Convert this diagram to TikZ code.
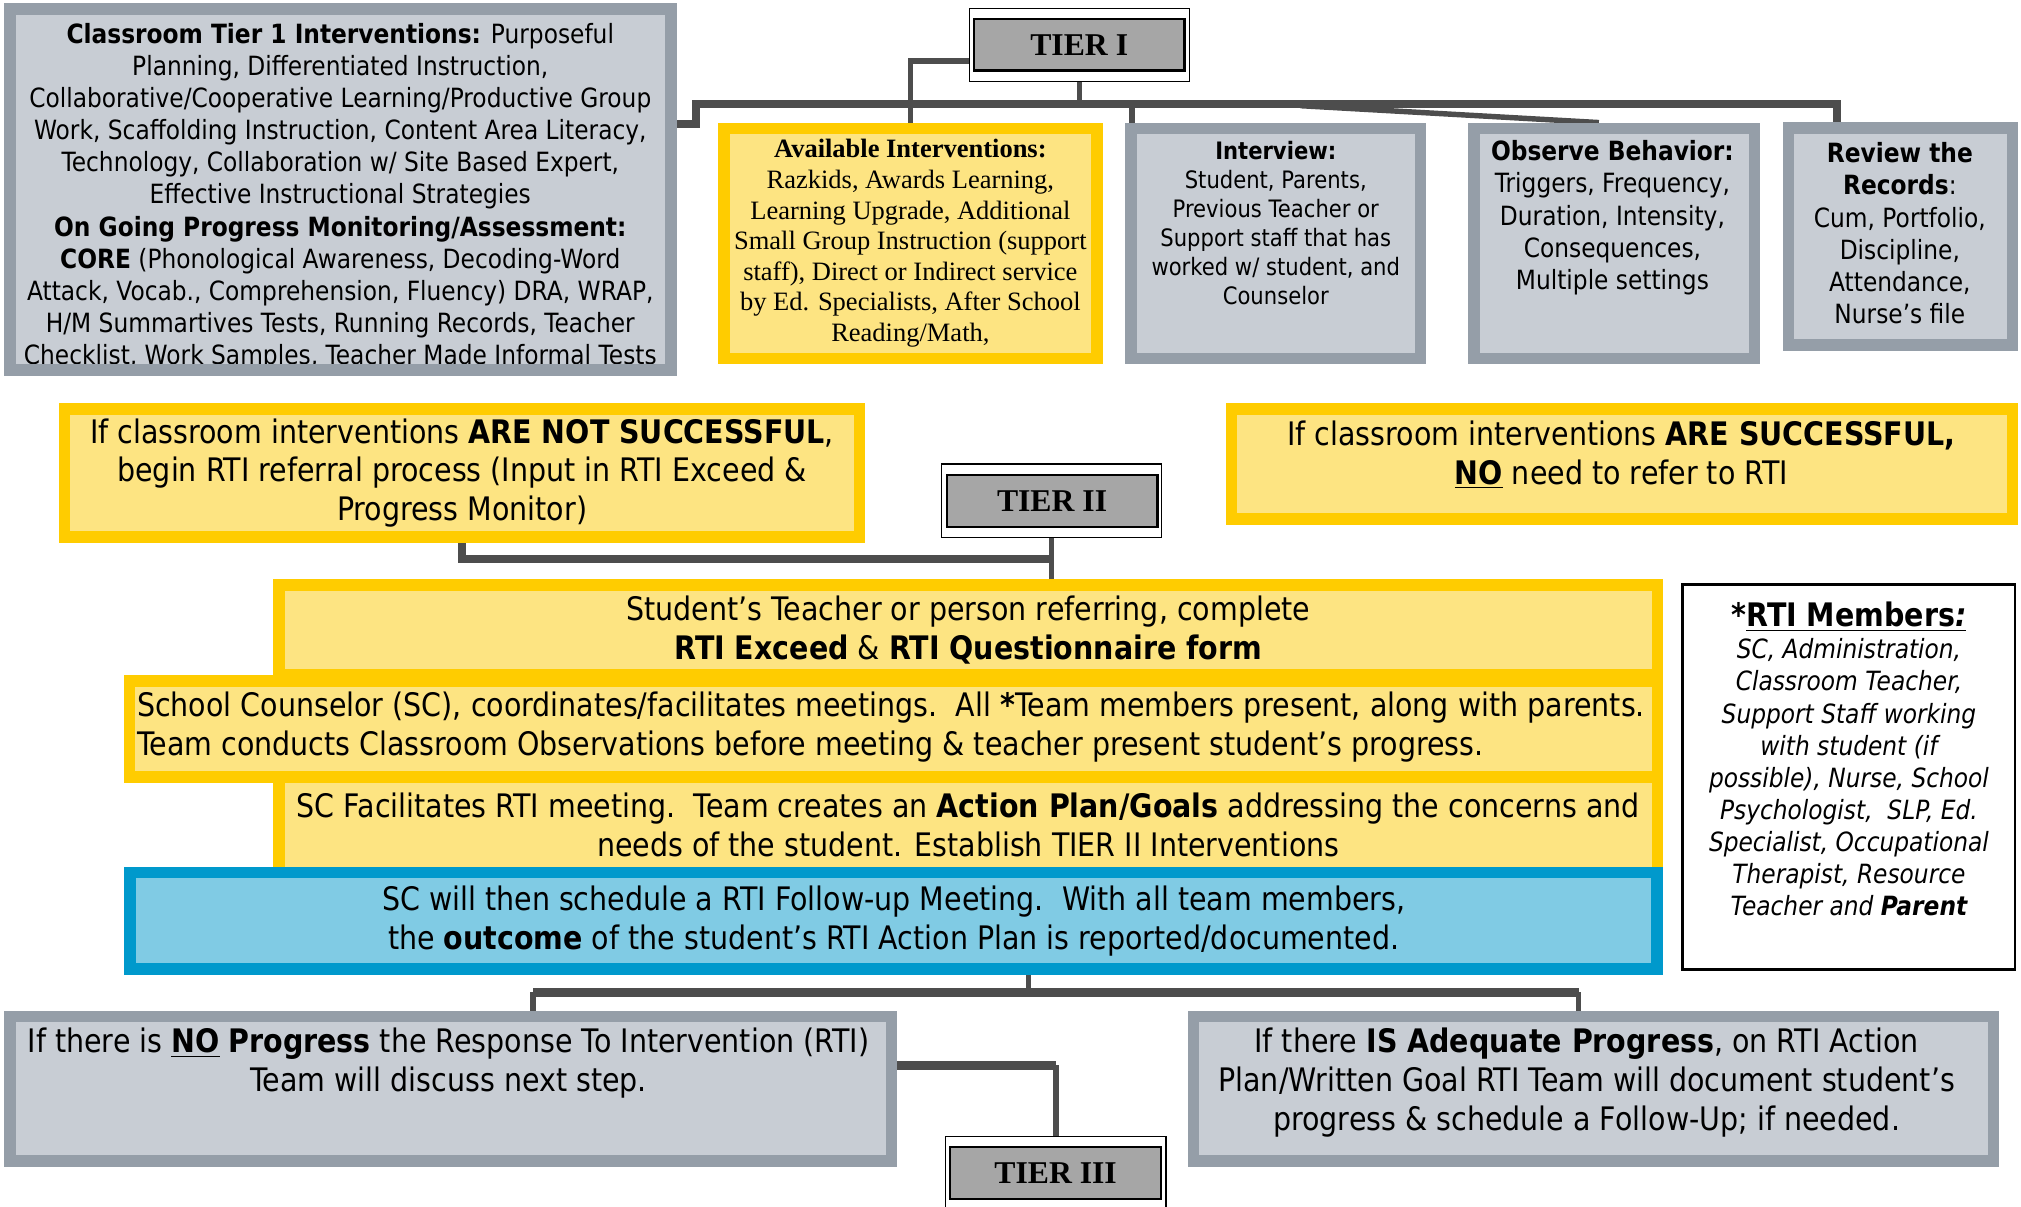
\documentclass[tikz,border=0pt]{standalone}
\usepackage{fontspec}
\setmainfont{DejaVu Sans}[FakeStretch=0.88]
\newfontfamily\serifface{Liberation Serif}
\usetikzlibrary{calc,backgrounds}

\definecolor{slateline}{HTML}{959EA8}
\definecolor{slatefill}{HTML}{C8CDD4}
\definecolor{goldline}{HTML}{FFCC00}
\definecolor{goldfill}{HTML}{FDE482}
\definecolor{skyline}{HTML}{0099CC}
\definecolor{skyfill}{HTML}{80CBE4}
\definecolor{tierfill}{HTML}{A6A6A6}
\definecolor{wire}{HTML}{4D4D4D}

\newcommand{\bodysize}{\fontsize{11.7pt}{14.2pt}\selectfont}
\newcommand{\smallbody}{\fontsize{10.6pt}{12.75pt}\selectfont}
\newcommand{\bigbody}{\fontsize{14.3pt}{17.1pt}\selectfont}
\newcommand{\availsize}{\serifface\fontsize{11.7pt}{13.5pt}\selectfont}
\newcommand{\tiersize}{\serifface\bfseries\fontsize{14pt}{16pt}\selectfont}

\begin{document}
\begin{tikzpicture}[x=0.02cm, y=-0.02cm,
  graybox/.style={draw=slateline, fill=slatefill, line width=5.1pt, inner sep=0pt},
  yellowbox/.style={draw=goldline, fill=goldfill, line width=5.1pt, inner sep=0pt},
  bluebox/.style={draw=skyline, fill=skyfill, line width=5.1pt, inner sep=0pt},
  tierframe/.style={draw=black, fill=white, line width=0.6pt, minimum width=3.42cm},
  tierbox/.style={draw=black, fill=tierfill, line width=1pt, minimum width=3.27cm, minimum height=0.8cm, font=\tiersize},
  words/.style={align=center, inner sep=0pt},
  bus/.style={draw=wire, line width=3.6pt},
  link/.style={draw=wire, line width=2.4pt}]

\useasboundingbox (0,0) rectangle (1568,936);

\node[graybox, minimum width=10.26cm, minimum height=5.6cm] (classbox) at (264,147) {};
\begin{scope}
\clip (12,11.6) rectangle (517,282);
\node[words, font=\bodysize] (classtext) at (264,152.5) {\textbf{Classroom Tier 1 Interventions:} Purposeful\\
Planning, Differentiated Instruction,\\
Collaborative/Cooperative Learning/Productive Group\\
Work, Scaffolding Instruction, Content Area Literacy,\\
Technology, Collaboration w/ Site Based Expert,\\
Effective Instructional Strategies\\
\textbf{On Going Progress Monitoring/Assessment:}\\
\textbf{CORE} (Phonological Awareness, Decoding-Word\\
Attack, Vocab., Comprehension, Fluency) DRA, WRAP,\\
H/M Summartives Tests, Running Records, Teacher\\
Checklist, Work Samples, Teacher Made Informal Tests};
\end{scope}

\node[tierframe, minimum height=1.13cm] (tieroneframe) at (837.5,34.75) {};
\node[tierbox] (tierone) at (837.3,34.75) {TIER I};

\node[yellowbox, minimum width=5.79cm, minimum height=3.57cm, words, font=\availsize] (avail) at (706.3,188.8) {\textbf{Available Interventions:}\\
Razkids, Awards Learning,\\
Learning Upgrade, Additional\\
Small Group Instruction (support\\
staff), Direct or Indirect service\\
by Ed. Specialists, After School\\
Reading/Math,};

\node[graybox, minimum width=4.49cm, minimum height=3.57cm] (interview) at (989.8,188.8) {};
\node[words, font=\smallbody] (interviewtext) at (989.8,173) {\textbf{Interview:}\\
Student, Parents,\\
Previous Teacher or\\
Support staff that has\\
worked w/ student, and\\
Counselor};

\node[graybox, minimum width=4.35cm, minimum height=3.57cm] (observe) at (1252.5,188.8) {};
\node[words, font=\bodysize] (observetext) at (1251,169) {\textbf{Observe Behavior:}\\
Triggers, Frequency,\\
Duration, Intensity,\\
Consequences,\\
Multiple settings};

\node[graybox, minimum width=3.48cm, minimum height=3.36cm] (review) at (1474.5,183.5) {};
\node[words, font=\bodysize] (reviewtext) at (1474,181) {\textbf{Review the}\\
\textbf{Records}:\\
Cum, Portfolio,\\
Discipline,\\
Attendance,\\
Nurse’s file};

\node[yellowbox, minimum width=12.34cm, minimum height=1.98cm, words, font=\bigbody] (notsucc) at (358.5,367) {If classroom interventions \textbf{ARE NOT SUCCESSFUL},\\
begin RTI referral process (Input in RTI Exceed \&\\
Progress Monitor)};

\node[yellowbox, minimum width=12.12cm, minimum height=1.7cm] (succ) at (1258.5,360) {};
\node[words, font=\bigbody] (succtext) at (1258,353) {If classroom interventions \textbf{ARE SUCCESSFUL,}\\
\underline{\textbf{NO}} need to refer to RTI};

\node[tierframe, minimum height=1.14cm] (tiertwoframe) at (815.8,388.5) {};
\node[tierbox] (tiertwo) at (816.25,388.65) {TIER II};

\node[yellowbox, minimum width=21.39cm, minimum height=1.39cm, words, font=\bigbody] (student) at (751.2,488.8) {Student’s Teacher or person referring, complete\\
\textbf{RTI Exceed} \& \textbf{RTI Questionnaire form}};

\node[yellowbox, minimum width=23.71cm, minimum height=1.49cm] (counsel) at (693.2,565.5) {};
\node[words, align=left, anchor=west, font=\bigbody] (counseltext) at (106,564) {School Counselor (SC), coordinates/facilitates meetings.\ \ All \textbf{*}Team members present, along with parents.\\
Team conducts Classroom Observations before meeting \& teacher present student’s progress.};

\node[yellowbox, minimum width=21.39cm, minimum height=1.48cm, words, font=\bigbody] (facil) at (751.2,640) {SC Facilitates RTI meeting.\ \ Team creates an \textbf{Action Plan/Goals} addressing the concerns and\\
needs of the student. Establish TIER II Interventions};

\node[bluebox, minimum width=23.7cm, minimum height=1.5cm, words, font=\bigbody] (followup) at (693.4,714.4) {SC will then schedule a RTI Follow-up Meeting.\ \ With all team members,\\
the \textbf{outcome} of the student’s RTI Action Plan is reported/documented.};

\node[draw=black, fill=white, line width=1.1pt, minimum width=5.16cm, minimum height=5.97cm] (members) at (1434.5,602.8) {};
\node[words, font=\bodysize\itshape] (memberstext) at (1434.5,589) {{\bigbody\upshape\bfseries *}\underline{\bigbody\textbf{\upshape RTI Members}\textbf{:}}\\
SC, Administration,\\
Classroom Teacher,\\
Support Staff working\\
with student (if\\
possible), Nurse, School\\
Psychologist,\ \ SLP, Ed.\\
Specialist, Occupational\\
Therapist, Resource\\
Teacher and \textbf{Parent}};

\node[graybox, minimum width=13.68cm, minimum height=2.24cm] (noprog) at (349.6,844.8) {};
\node[words, font=\bigbody] (noprogtext) at (348,825) {If there is \underline{\textbf{NO}} \textbf{Progress} the Response To Intervention (RTI)\\
Team will discuss next step.};

\node[graybox, minimum width=12.41cm, minimum height=2.24cm] (adequate) at (1236.3,844.8) {};
\node[words, font=\bigbody] (adequatetext) at (1231,840) {If there \textbf{IS Adequate Progress}, on RTI Action\\
Plan/Written Goal RTI Team will document student’s\\
progress \& schedule a Follow-Up; if needed.};

\node[tierframe, minimum height=1.19cm] (tierthreeframe) at (819.15,911.3) {};
\node[tierbox] (tierthree) at (819,910.15) {TIER III};

\begin{pgfonlayer}{background}
\coordinate (stub) at (525,96);
\coordinate (busL) at (540,81);
\coordinate (busR) at (1425,81);
\coordinate (slant) at (1009,82);
\draw[bus] (stub) -| (busL) -- (busR) -- (busR |- review.north);
\draw[link] (tieroneframe.south) -- (tieroneframe.south |- busL);
\draw[link] ($(tierone.south west)!0.2!(tierone.north west)$) -| (avail.north);
\draw[link] ($(interview.north west)+(5,0)$) -- ($(interview.north west |- busL)+(5,0)$);
\draw[link] (slant) -- ($(observe.north)+(-12,0)$);

\coordinate (tiertwojoin) at ($(tiertwoframe.south)!0.5!(tiertwoframe.south |- student.north)$);
\draw[bus] (notsucc.south) |- (tiertwojoin);
\draw[link] (tiertwoframe.south) -- (tiertwoframe.south |- student.north);

\coordinate (split) at (798,770);
\coordinate (splitL) at (413.6,770);
\coordinate (splitR) at (1224.7,770);
\draw[link] (split |- followup.south) -- (split);
\draw[bus] (splitL) -- (splitR);
\draw[link] (splitL) -- (splitL |- noprog.north);
\draw[link] (splitR) -- (splitR |- adequate.north);

\coordinate (npjoin) at ($(noprog.north east)!0.35!(noprog.south east)$);
\draw[bus] (npjoin) -- (npjoin -| tierthreeframe.north);
\draw[link] (npjoin -| tierthreeframe.north) -- (tierthreeframe.north);
\end{pgfonlayer}

\end{tikzpicture}
\end{document}
